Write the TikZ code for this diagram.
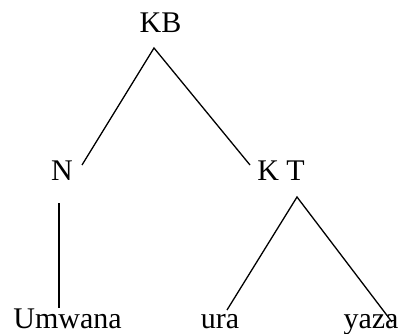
\documentclass[tikz,border=0pt]{standalone}
\usepackage{fontspec}
\setmainfont{Liberation Serif}
\usetikzlibrary{positioning}

\begin{document}
\begin{tikzpicture}[x=1pt, y=-1pt,
    word/.style={anchor=base, inner sep=0pt, font=\fontsize{30}{36}\selectfont},
    branch/.style={line width=1.3pt}]

\useasboundingbox (0,0) rectangle (404,334);

\node[word] (kb) at (160.5,33) {KB};
\node[word] (n) at (62,180) {N};
\node[word] (kt) at (281,180) {K T};

\node[word] (umwana) at (67.5,328) {Umwana};
\node[word] (ura) at (220,328) {ura};
\node[word] (yaza) at (371,328) {yaza};

\draw[branch] ([shift={(20,-15)}]n.base) -- ([shift={(-6.5,15)}]kb.base) -- ([shift={(-31,-15)}]kt.base);
\draw[branch] ([shift={(-3,23)}]n.base) -- ([shift={(-8.5,-20)}]umwana.base);
\draw[branch] ([shift={(7,-18)}]ura.base) -- ([shift={(16,17)}]kt.base) -- ([shift={(21,-6)}]yaza.base);

\end{tikzpicture}
\end{document}
